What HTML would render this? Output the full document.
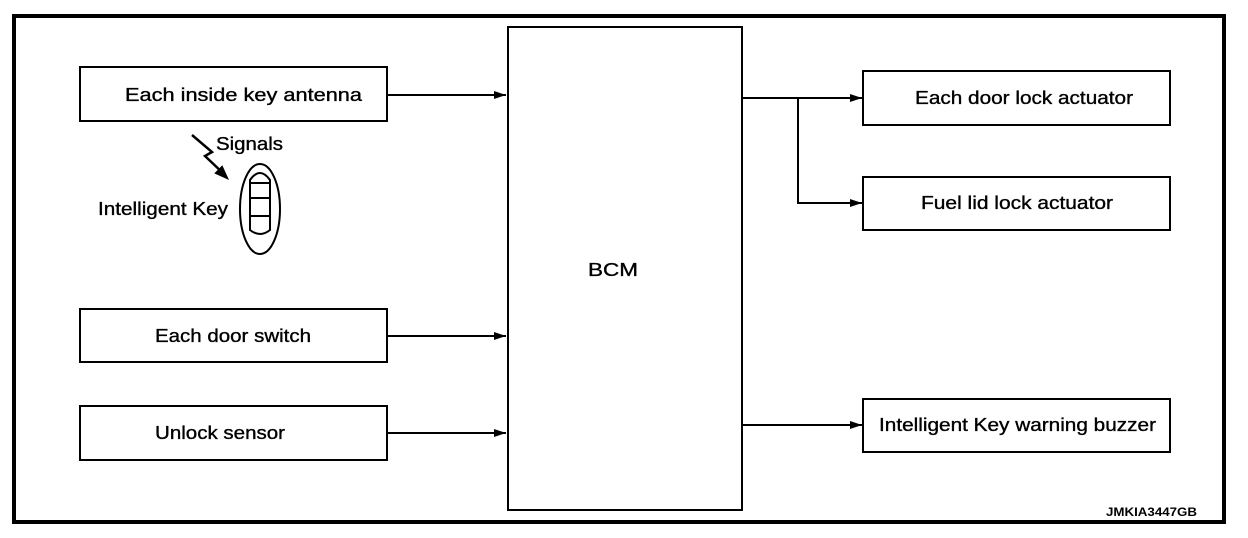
<!DOCTYPE html>
<html><head><meta charset="utf-8"><style>
html,body{margin:0;padding:0;background:#fff;}
svg{display:block;}
text{font-family:"Liberation Sans",Arial,sans-serif;font-size:18px;fill:#000;stroke:#000;stroke-width:0.35;}
</style></head><body>
<svg width="1248" height="538" viewBox="0 0 1248 538" xmlns="http://www.w3.org/2000/svg">
<defs>
<marker id="a" markerWidth="12" markerHeight="8" refX="12" refY="4" orient="auto" markerUnits="userSpaceOnUse">
<path d="M0,0 L12,4 L0,8 Z" fill="#000"/>
</marker>
</defs>
<rect x="14" y="16" width="1210" height="506" fill="none" stroke="#000" stroke-width="4"/>
<g fill="none" stroke="#000" stroke-width="2">
<rect x="80" y="67" width="307" height="54"/>
<rect x="80" y="309" width="307" height="53"/>
<rect x="80" y="406" width="307" height="54"/>
<rect x="508" y="27" width="234" height="483"/>
<rect x="863" y="71" width="307" height="54"/>
<rect x="863" y="177" width="307" height="53"/>
<rect x="863" y="399" width="307" height="53"/>
<line x1="387" y1="95" x2="506" y2="95" marker-end="url(#a)"/>
<line x1="387" y1="336" x2="506" y2="336" marker-end="url(#a)"/>
<line x1="387" y1="433" x2="506" y2="433" marker-end="url(#a)"/>
<line x1="742" y1="98" x2="862" y2="98" marker-end="url(#a)"/>
<polyline points="798,98 798,203 862,203" marker-end="url(#a)"/>
<line x1="742" y1="425" x2="862" y2="425" marker-end="url(#a)"/>
<ellipse cx="260" cy="209" rx="20" ry="45"/>
<path d="M250,180 Q260,166 270,180 L270,230 Q260,238 250,230 Z"/>
<line x1="250" y1="183" x2="270" y2="183"/>
<line x1="251" y1="198" x2="269" y2="198"/>
<line x1="251" y1="216" x2="269" y2="216"/>
</g>
<path d="M192,135 L212,152 L205,156 L225,175" fill="none" stroke="#000" stroke-width="2.5"/>
<path d="M227,178 L216,173 L222,167 Z" fill="#000" stroke="#000" stroke-width="2"/>
<text x="125" y="101" textLength="237" lengthAdjust="spacingAndGlyphs">Each inside key antenna</text>
<text x="216" y="150" textLength="67" lengthAdjust="spacingAndGlyphs">Signals</text>
<text x="98" y="215" textLength="130" lengthAdjust="spacingAndGlyphs">Intelligent Key</text>
<text x="155" y="342" textLength="156" lengthAdjust="spacingAndGlyphs">Each door switch</text>
<text x="155" y="439" textLength="130" lengthAdjust="spacingAndGlyphs">Unlock sensor</text>
<text x="588" y="276" textLength="50" lengthAdjust="spacingAndGlyphs">BCM</text>
<text x="915" y="104" textLength="218" lengthAdjust="spacingAndGlyphs">Each door lock actuator</text>
<text x="921" y="209" textLength="192" lengthAdjust="spacingAndGlyphs">Fuel lid lock actuator</text>
<text x="879" y="431" textLength="277" lengthAdjust="spacingAndGlyphs">Intelligent Key warning buzzer</text>
<text x="1106" y="516" style="font-size:12px;font-weight:bold;stroke-width:0" textLength="91" lengthAdjust="spacingAndGlyphs">JMKIA3447GB</text>
</svg>
</body></html>
